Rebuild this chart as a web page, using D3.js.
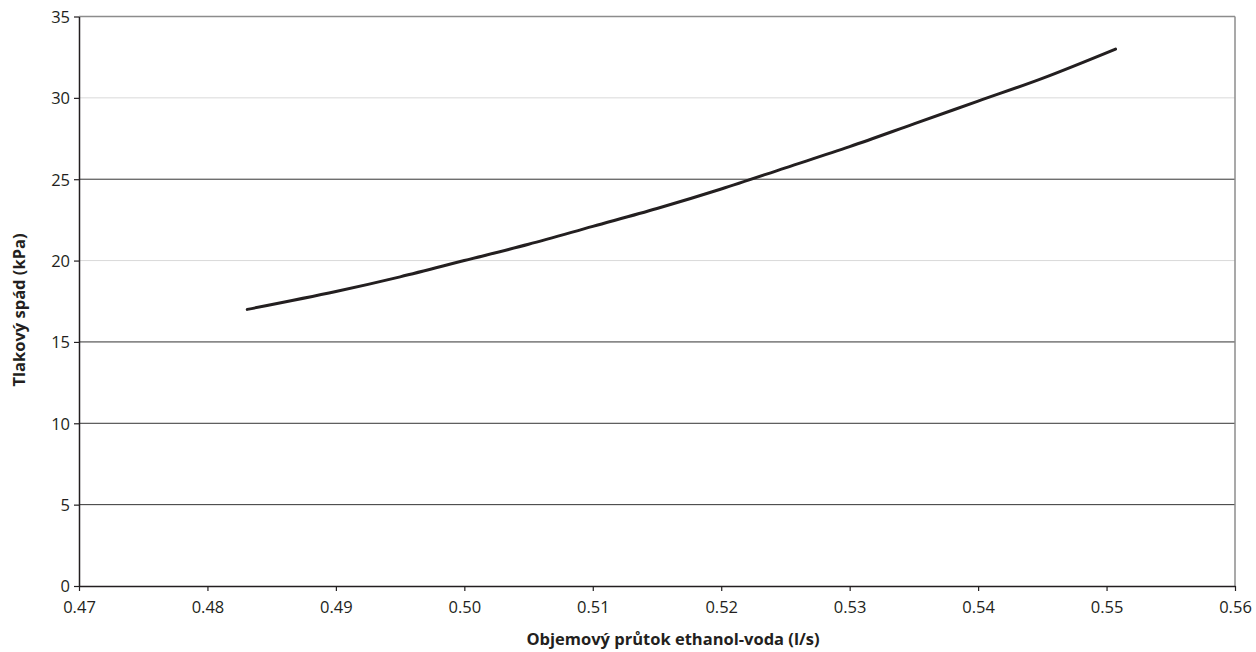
<!DOCTYPE html>
<html><head><meta charset="utf-8">
<script src="https://cdn.jsdelivr.net/npm/d3@7"></script>
<style>
html,body{margin:0;padding:0;background:#fff;}
svg{display:block;}
text{font-family:"Open Sans","Noto Sans",sans-serif;fill:#231f20;}
</style></head>
<body>
<svg id="chart" width="1256" height="652"></svg>
<script>
// Data
const flow = [0.4831, 0.490, 0.495, 0.500, 0.505, 0.510, 0.515, 0.520, 0.525, 0.530, 0.535, 0.540, 0.545, 0.5507];
const pressure = [17.0, 18.1, 19.0, 20.0, 21.0, 22.1, 23.2, 24.4, 25.7, 27.0, 28.4, 29.8, 31.2, 33.0];
const xTicks = [0.47, 0.48, 0.49, 0.50, 0.51, 0.52, 0.53, 0.54, 0.55, 0.56];
const yTicks = [0, 5, 10, 15, 20, 25, 30, 35];
const darkGrid = [5, 10, 15, 25];
const lightGrid = [20, 30];
const xTitle = "Objemový průtok ethanol-voda (l/s)";
const yTitle = "Tlakový spád (kPa)";

const svg = d3.select("#chart");
const L = 79, R = 1235, T = 16.5, B = 586;
const x = d3.scaleLinear().domain([0.47, 0.56]).range([L, R]);
const y = d3.scaleLinear().domain([0, 35]).range([B, T]);

// gridlines
svg.append("g").selectAll("line").data(lightGrid).join("line")
  .attr("x1", L).attr("x2", R).attr("y1", d => y(d)).attr("y2", d => y(d))
  .attr("stroke", "#d9d9d9").attr("stroke-width", 1);
svg.append("g").selectAll("line").data(darkGrid).join("line")
  .attr("x1", L).attr("x2", R).attr("y1", d => y(d)).attr("y2", d => y(d))
  .attr("stroke", "#333").attr("stroke-width", 1);

// top / right border
svg.append("line").attr("x1", L).attr("x2", R).attr("y1", y(35)).attr("y2", y(35))
  .attr("stroke", "#8c8c8c").attr("stroke-width", 1.5);
svg.append("line").attr("x1", R).attr("x2", R).attr("y1", T).attr("y2", B)
  .attr("stroke", "#8c8c8c").attr("stroke-width", 1.5);

// axes
const xAxis = svg.append("g").attr("transform", `translate(0,${B})`)
  .call(d3.axisBottom(x).tickValues(xTicks).tickFormat(d3.format(".2f")).tickSize(5).tickSizeOuter(0));
const yAxis = svg.append("g").attr("transform", `translate(${L},0)`)
  .call(d3.axisLeft(y).tickValues(yTicks).tickFormat(d3.format("d")).tickSize(5).tickSizeOuter(0));
[xAxis, yAxis].forEach(a => {
  a.select(".domain").attr("stroke", "#231f20").attr("stroke-width", 1.5);
  a.selectAll(".tick line").attr("stroke", "#231f20").attr("stroke-width", 1.2);
  a.selectAll(".tick text").attr("font-family", '"Open Sans","Noto Sans",sans-serif')
    .attr("font-size", 16.5).attr("fill", "#231f20");
});
xAxis.selectAll(".tick text").attr("dy", 0).attr("y", 27);
yAxis.selectAll(".tick text").attr("x", -9).attr("dy", "0.36em");

// curve
const pts = flow.map((f, i) => [f, pressure[i]]);
svg.append("path").datum(pts)
  .attr("d", d3.line().x(d => x(d[0])).y(d => y(d[1])).curve(d3.curveCatmullRom))
  .attr("fill", "none").attr("stroke", "#231f20").attr("stroke-width", 3)
  .attr("stroke-linecap", "round");

// titles
svg.append("text").attr("x", 673).attr("y", 645).attr("text-anchor", "middle")
  .attr("font-size", 16.5).attr("font-weight", "bold").text(xTitle);
svg.append("text").attr("transform", "translate(25,310) rotate(-90)").attr("text-anchor", "middle")
  .attr("font-size", 16.5).attr("font-weight", "bold").text(yTitle);
</script>
</body></html>
